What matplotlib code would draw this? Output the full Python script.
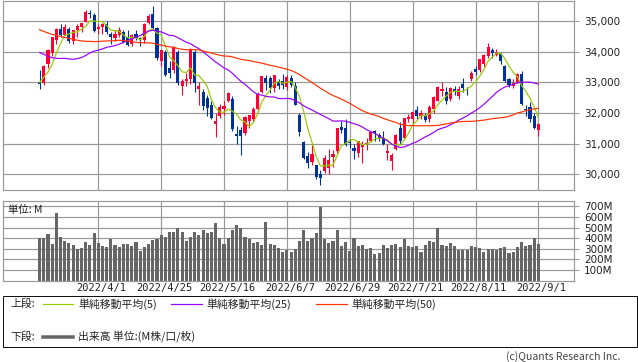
import numpy as np
import pandas as pd
import matplotlib
matplotlib.use('Agg')
import matplotlib.pyplot as plt
from matplotlib.transforms import ScaledTranslation
from matplotlib.patches import Rectangle
from matplotlib.lines import Line2D

# closes before the first visible candle (needed for the moving averages)
pre_close = [36338, 36585, 36800, 36407, 36236, 36232, 36069, 36252, 36290, 36114,
             35912, 35368, 35029, 34715, 34265, 34365, 34298, 34168, 34161, 34725,
             35132, 35405, 35629, 35111, 35090, 35091, 35463, 35768, 35242, 34738,
             34566, 34989, 34934, 34312, 34079, 33597, 33132, 33224, 34059, 33893,
             33295, 33891, 33795, 33615, 32817, 32633, 33286, 33174, 32944]

opens = [33030, 32980, 33600, 33950, 34400, 34750, 34550, 34750, 34360, 34700,
         34800, 34980, 35280, 35220, 34740, 34800, 34900, 34600, 34450, 34550,
         34650, 34500, 34250, 34580, 34450, 34400, 34960, 35250, 34770, 33700,
         33990, 33460, 33400, 33990, 32900, 33060, 33100, 34000, 32800, 32700,
         32480, 32250, 31650, 31900, 32150, 32400, 32460, 31330, 31450, 31350,
         31750, 31800, 32150, 32700, 33150, 33160, 32810, 33000, 33050, 32850,
         33150, 32870, 31950, 31060, 30600, 30400, 30300, 30000, 30100, 30200,
         30550, 30750, 31550, 31500, 31050, 30850, 30700, 30880, 30990, 31100,
         31400, 31300, 31200, 30700, 30440, 30830, 31500, 31170, 31800, 31800,
         32100, 31900, 31950, 31800, 32150, 32400, 32730, 32700, 32450, 32800,
         32550, 32950, 32800, 33100, 33450, 33400, 33600, 33850, 34050, 33900,
         33930, 33550, 33100, 32880, 33020, 33280, 32150, 32200, 31900, 31450]
highs = [33400, 33580, 34100, 34500, 34780, 34900, 34900, 34800, 34720, 34900,
         34960, 35372, 35360, 35270, 34900, 34950, 35000, 34650, 34700, 34820,
         34700, 34700, 34600, 34700, 34500, 34950, 35250, 35492, 34800, 34060,
         34050, 33700, 34200, 34050, 33100, 33300, 34120, 34050, 33000, 32800,
         32600, 32400, 32000, 32300, 32400, 32700, 32560, 31580, 31550, 31900,
         31950, 32200, 32700, 33220, 33250, 33200, 33260, 33130, 33270, 33250,
         33230, 33020, 32000, 31100, 30740, 31004, 30320, 30140, 30640, 30840,
         30800, 31520, 31750, 31800, 31150, 31000, 31100, 31100, 31200, 31420,
         31450, 31350, 31400, 31000, 30700, 31320, 31720, 31840, 31980, 32060,
         32230, 32100, 32000, 32280, 32570, 32900, 33000, 32850, 32850, 32880,
         32900, 33160, 32860, 33365, 33550, 33770, 33920, 34281, 34130, 34100,
         33960, 33560, 33150, 33100, 33300, 33360, 32250, 32350, 32000, 31670]
lows = [32800, 32930, 33480, 33880, 34250, 34500, 34550, 34300, 34250, 34500,
        34650, 34980, 35100, 34650, 34600, 34600, 34600, 34270, 34350, 34500,
        34300, 34180, 34200, 34400, 34200, 34300, 34900, 34750, 33750, 33530,
        33200, 33150, 33300, 32930, 32580, 32900, 32950, 32700, 32270, 32100,
        31900, 31800, 31228, 31850, 31950, 32350, 31420, 30990, 30636, 31300,
        31500, 31700, 32050, 32650, 32750, 32650, 32700, 32800, 32780, 32750,
        32850, 32270, 31250, 30500, 30206, 30300, 29860, 29653, 30050, 30000,
        30250, 30700, 31350, 30920, 30850, 30500, 30570, 30380, 30800, 31050,
        31100, 31100, 30950, 30470, 30143, 30800, 31000, 31150, 31700, 31650,
        31800, 31800, 31700, 31700, 32000, 32400, 32550, 32300, 32400, 32600,
        32450, 32700, 32600, 33050, 33250, 33350, 33500, 33800, 33800, 33850,
        33620, 33000, 32850, 32830, 32980, 32260, 31900, 31700, 31480, 31250]
closes = [32945, 33544, 34063, 34481, 34755, 34553, 34807, 34358, 34708, 34861,
          34956, 35294, 35229, 34678, 34818, 34922, 34641, 34496, 34583, 34721,
          34308, 34220, 34565, 34451, 34412, 34911, 35161, 34793, 33811, 34049,
          33240, 33302, 34161, 32977, 33061, 33129, 34061, 32998, 32899, 32246,
          32161, 31834, 31730, 32197, 32223, 32655, 31490, 31253, 31262, 31880,
          31929, 32120, 32637, 33213, 32990, 32813, 33248, 32900, 32916, 33180,
          32911, 32273, 31393, 30517, 30365, 30669, 29927, 29889, 30530, 30483,
          30677, 31501, 31438, 30947, 31029, 30775, 31097, 30968, 31038, 31385,
          31338, 31174, 30981, 30773, 30630, 31288, 31073, 31827, 31875, 32037,
          31899, 31990, 31762, 32198, 32530, 32845, 32798, 32396, 32812, 32727,
          32803, 32833, 32774, 33310, 33337, 33761, 33912, 34152, 33980, 33999,
          33707, 33064, 32910, 32969, 33292, 32283, 32099, 31791, 31510, 31656]
volume_m = [403, 400, 437, 340, 634, 415, 369, 353, 331, 300,
            303, 359, 331, 444, 350, 322, 312, 387, 331, 312,
            340, 340, 322, 359, 275, 312, 340, 378, 387, 425,
            406, 462, 453, 500, 453, 369, 415, 453, 425, 481,
            444, 462, 547, 397, 340, 397, 472, 519, 500, 406,
            387, 350, 359, 331, 556, 340, 331, 303, 266, 284,
            272, 294, 369, 481, 369, 397, 444, 697, 387, 350,
            369, 472, 322, 359, 275, 397, 322, 331, 294, 303,
            247, 256, 331, 303, 331, 340, 312, 387, 322, 312,
            322, 266, 331, 369, 359, 491, 331, 322, 350, 322,
            284, 284, 284, 322, 312, 303, 266, 294, 294, 284,
            303, 312, 256, 266, 312, 359, 322, 331, 397, 340]

tick_idx = [14, 29, 44, 59, 74, 89, 104, 119]
tick_labels = ["2022/4/1", "2022/4/25", "2022/5/16", "2022/6/7",
               "2022/6/29", "2022/7/21", "2022/8/11", "2022/9/1"]
price_ticks = [30000, 31000, 32000, 33000, 34000, 35000]
vol_ticks = [100, 200, 300, 400, 500, 600, 700]
ma_periods = [5, 25, 50]
ma_names = ["単純移動平均(5)", "単純移動平均(25)", "単純移動平均(50)"]

RED = '#ff0033'
BLUE = '#003399'
MA_COLORS = ['#99cc00', '#9900ff', '#ff3300']
GRID = '#999999'
VOLC = '#666666'
TXT = '#222222'
CJK = ['Noto Sans CJK JP', 'DejaVu Sans']

W, H = 638, 362
fig = plt.figure(figsize=(W / 100, H / 100), dpi=100)
fig.patch.set_facecolor('white')

def fx(px):
    return px / W

def fy(py):
    return 1 - py / H

PX = 0.72  # one pixel in points

XL = (-8.73, 127.5)

# ---------------- price panel ----------------
ax1 = fig.add_axes([fx(3), fy(190), fx(574) - fx(3), fy(1) - fy(190)])
ax1.set_xlim(*XL)
ax1.set_ylim(29487, 35663)
for v in price_ticks:
    ax1.axhline(v, color=GRID, lw=PX * 1.2, zorder=0)
for t in tick_idx:
    ax1.axvline(t, color=GRID, lw=PX * 1.2, zorder=0)

x = np.arange(len(closes))
o = np.array(opens, float)
h = np.array(highs, float)
l = np.array(lows, float)
c = np.array(closes, float)
cols = np.where(c >= o, RED, BLUE)
ax1.vlines(x, l, h, colors=cols, lw=PX * 1.1, zorder=2)
body_bottom = np.minimum(o, c)
body_h = np.maximum(np.abs(c - o), 25)
ax1.bar(x, body_h, bottom=body_bottom, width=0.74, color=cols, lw=0, zorder=3)

all_close = pd.Series(pre_close + closes, dtype=float)
npre = len(pre_close)
for n, colr in zip(ma_periods, MA_COLORS):
    ma = all_close.rolling(n).mean().values[npre:]
    ax1.plot(x, ma, color=colr, lw=PX * 1.2, zorder=4)

ax1.set_yticks(price_ticks, [f"{v:,}" for v in price_ticks])
ax1.yaxis.tick_right()
ax1.tick_params(axis='y', which='both', right=True, left=False, labelright=True,
                labelleft=False, length=3.6, width=PX, color=GRID, pad=3.6,
                labelsize=7.5, labelcolor=TXT)
ax1.tick_params(axis='x', bottom=False, labelbottom=False)
for sp in ax1.spines.values():
    sp.set_color(GRID)
    sp.set_linewidth(PX * 1.2)

# ---------------- volume panel ----------------
ax2 = fig.add_axes([fx(3), fy(280.5), fx(574) - fx(3), fy(201) - fy(280.5)])
ax2.set_xlim(*XL)
ax2.set_ylim(0, 750)
for v in vol_ticks:
    ax2.axhline(v, color=GRID, lw=PX * 1.2, zorder=0)
for t in tick_idx:
    ax2.axvline(t, color=GRID, lw=PX * 1.2, zorder=0)
ax2.bar(x, volume_m, width=0.74, color=VOLC, lw=0, zorder=2)
ax2.set_yticks(vol_ticks, [f"{v}M" for v in vol_ticks])
ax2.yaxis.tick_right()
ax2.tick_params(axis='y', which='both', right=True, left=False, labelright=True,
                labelleft=False, length=3.6, width=PX, color=GRID, pad=3.6,
                labelsize=7.5, labelcolor=TXT)
ax2.set_xticks(tick_idx, tick_labels)
ax2.tick_params(axis='x', length=0, pad=1.8, labelsize=7.5, labelcolor=TXT,
                labelfontfamily='DejaVu Sans Mono')
off = ScaledTranslation(3 / 100, 0, fig.dpi_scale_trans)
for lab in ax2.get_xticklabels():
    lab.set_transform(lab.get_transform() + off)
for sp in ax2.spines.values():
    sp.set_color(GRID)
    sp.set_linewidth(PX * 1.2)
fig.text(fx(8), fy(209.5), "単位: M", fontsize=7.5, family=CJK, color=TXT,
         ha='left', va='center')

# ---------------- legend box ----------------
fig.patches.append(Rectangle((fx(3), fy(347)), fx(637) - fx(3), fy(296) - fy(347),
                             transform=fig.transFigure, fill=False,
                             edgecolor='#111111', lw=PX))
ly1, ly2 = fy(304), fy(337)
fig.text(fx(10), ly1, "上段:", fontsize=7.8, family=CJK, color=TXT, ha='left', va='center')
seg = [(43, 73, 78), (171, 202, 206), (316, 347, 351)]
for (a, b, tx), colr, name in zip(seg, MA_COLORS, ma_names):
    fig.lines.append(Line2D([fx(a), fx(b)], [ly1, ly1], transform=fig.transFigure,
                            color=colr, lw=PX * 1.2))
    fig.text(fx(tx), ly1, name, fontsize=7.8, family=CJK, color=TXT, ha='left', va='center')
fig.text(fx(10), ly2, "下段:", fontsize=7.8, family=CJK, color=TXT, ha='left', va='center')
fig.lines.append(Line2D([fx(43), fx(73)], [ly2, ly2], transform=fig.transFigure,
                        color=VOLC, lw=PX * 3.5))
fig.text(fx(78), ly2, "出来高 単位:(M株/口/枚)", fontsize=7.8, family=CJK, color=TXT,
         ha='left', va='center')

fig.text(fx(620), fy(357), "(c)Quants Research Inc.", fontsize=7.5, family=CJK,
         color='#444444', ha='right', va='center')

fig.savefig('out.png', dpi=100, facecolor='white')
